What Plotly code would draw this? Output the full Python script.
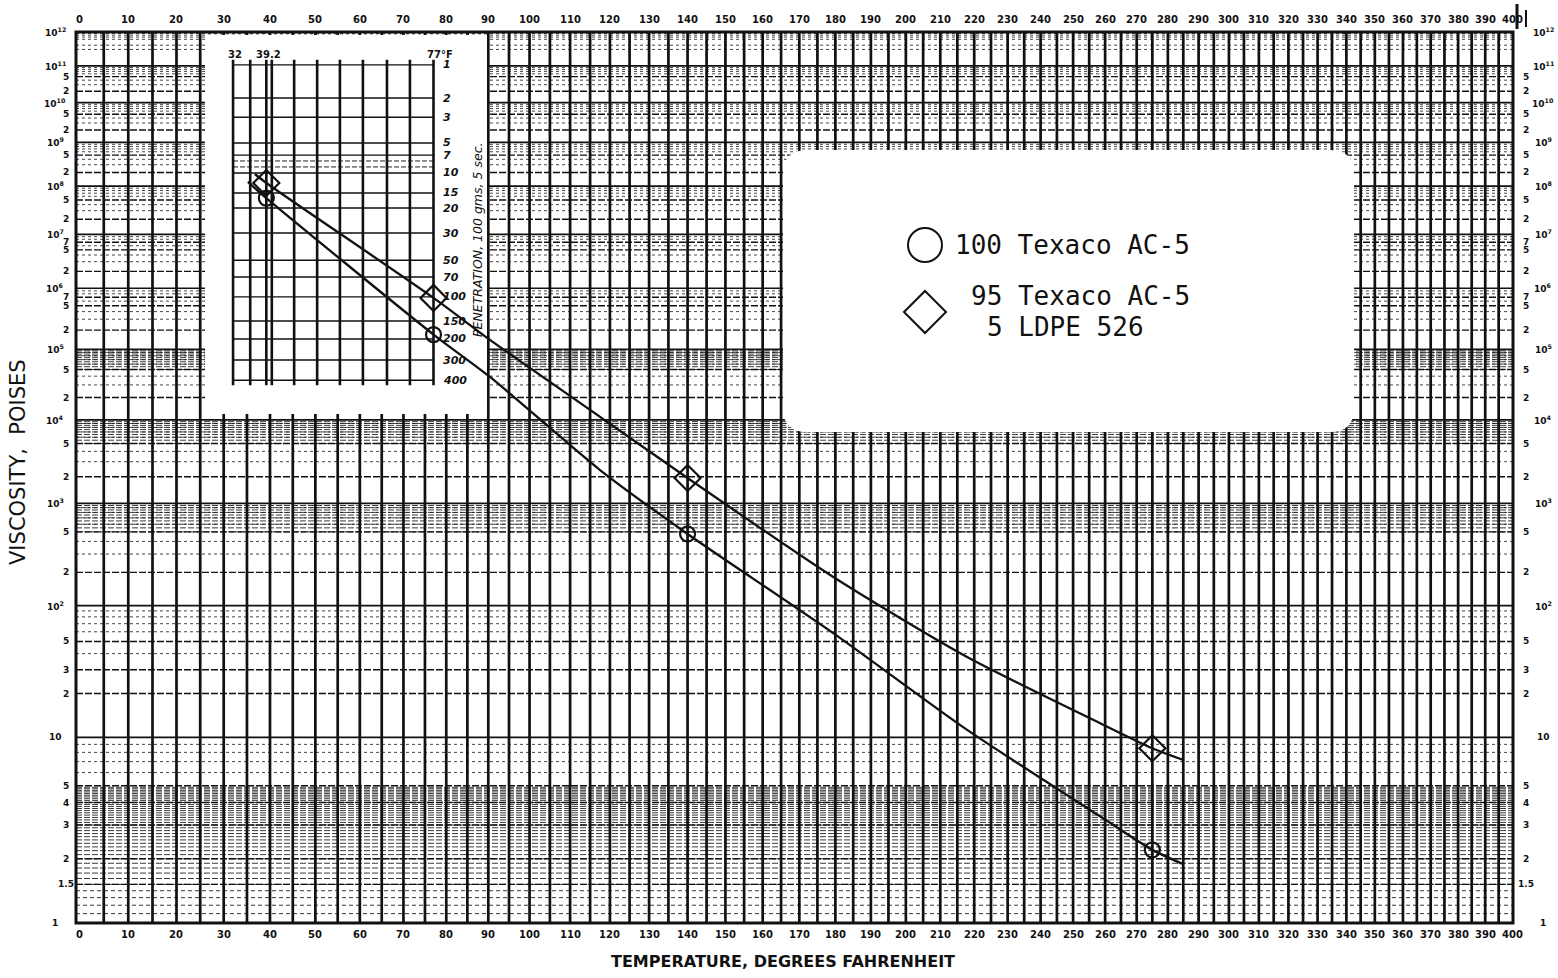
import numpy as np
import plotly.graph_objects as go

# ---------------- data ----------------
marker_temp_f = [39.2, 77, 140, 275]
ac5_visc = [5.5e7, 1.7e5, 476, 2.22]          # 100 Texaco AC-5  (poises)
ldpe_visc = [1.17e8, 6.8e5, 1930, 8.5]        # 95 Texaco AC-5 / 5 LDPE 526

ac5_curve_temp = [35.2, 39.2, 77, 90.4, 117.5, 140, 179.3, 217.9, 258.3, 275, 285.0]
ac5_curve_visc = [1.23e8, 5.5e7, 1.7e5, 3.9e4, 2390, 476, 58.7, 11.2, 3.36, 2.22, 1.88]
ldpe_curve_temp = [36.7, 39.2, 77, 90.4, 117.5, 140, 179.3, 217.9, 258.3, 275, 285.0]
ldpe_curve_visc = [1.85e8, 1.17e8, 6.8e5, 1.4e5, 1.1e4, 1930, 182, 37.6, 12.46, 8.5, 7.17]

temp_ticks = list(range(0, 401, 10))
visc_tick_vals = [1e12, 1e11, 5e10, 2e10, 1e10, 5e9, 2e9, 1e9, 5e8, 2e8, 1e8, 5e7, 2e7, 1e7,
                  7e6, 5e6, 2e6, 1e6, 7e5, 5e5, 2e5, 1e5, 5e4, 2e4, 1e4, 5e3, 2e3, 1e3,
                  5e2, 2e2, 1e2, 50, 30, 20, 10, 5, 4, 3, 2, 1.5, 1]
visc_tick_text = ["10<sup>12</sup>", "10<sup>11</sup>", "5", "2", "10<sup>10</sup>", "5", "2",
                  "10<sup>9</sup>", "5", "2", "10<sup>8</sup>", "5", "2", "10<sup>7</sup>",
                  "7", "5", "2", "10<sup>6</sup>", "7", "5", "2", "10<sup>5</sup>", "5", "2",
                  "10<sup>4</sup>", "5", "2", "10<sup>3</sup>", "5", "2", "10<sup>2</sup>",
                  "5", "3", "2", "10", "5", "4", "3", "2", "1.5", "1"]

# inset: penetration scale (100 g, 5 sec) and the equivalent viscosity on the main chart
pen_labels = [1, 2, 3, 5, 7, 10, 15, 20, 30, 50, 70, 100, 150, 200, 300, 400]
pen_equiv_visc = [1.07e11, 1.32e10, 4.2e9, 9.7e8, 5.0e8, 1.95e8, 7.1e7, 3.4e7, 1.06e7,
                  3.2e6, 1.58e6, 7.1e5, 2.8e5, 1.45e5, 6.9e4, 3.5e4]
pen_extra_visc = [3.66e8, 2.67e8]
inset_temp_lines = [32, 35.7, 39.2, 40.4, 45.3, 50.4, 55.5, 60.7, 66.2, 71.5, 77]
inset_temp_labels = ["32", "39.2", "77°F"]
inset_temp_label_vals = [32, 39.2, 77]


# ---------------- chart scales (ASTM: log Rankine  vs  log-log centipoise) -------------
def tx(t):
    return np.log10(np.asarray(t, dtype=float) + 459.67)


def ty(v):
    return np.log10(np.log10(np.asarray(v, dtype=float) * 100.0))


W, H = 1558, 978
ML, MR, MT, MB = 76, 45, 32, 55
PW, PH = W - ML - MR, H - MT - MB
XPD = 5270.5  # pixels per decade of Rankine
xr = [float(tx(0)) - 3 / XPD, float(tx(400)) + 1 / XPD]
yr = [float(ty(1)), float(ty(1e12))]


def px(x):
    return (x - ML) / PW


def py(y):
    return (H - MB - y) / PH


def dxp(x):  # page pixel -> x data coordinate (for decorations)
    return xr[0] + px(x) * (xr[1] - xr[0])


def dyp(y):
    return yr[0] + py(y) * (yr[1] - yr[0])


def segs(pairs):
    return " ".join(f"M{a:.6f},{b:.6f} L{c:.6f},{d:.6f}" for a, b, c, d in pairs)


shapes = []


def hlines(vals, width, dash="solid", color="#111", x0=None, x1=None):
    x0 = xr[0] if x0 is None else x0
    x1 = xr[1] if x1 is None else x1
    pairs = [(x0, float(ty(v)), x1, float(ty(v))) for v in vals]
    shapes.append(dict(type="path", path=segs(pairs), xref="x", yref="y", layer="below",
                       line=dict(color=color, width=width, dash=dash)))


def vlines(temps, width, y0v, y1v, color="#111", dash="solid"):
    pairs = [(float(tx(t)), float(ty(y0v)), float(tx(t)), float(ty(y1v))) for t in temps]
    shapes.append(dict(type="path", path=segs(pairs), xref="x", yref="y", layer="below",
                       line=dict(color=color, width=width, dash=dash)))


# --- main grid ---
labeled = set(visc_tick_vals)
minor = []
for n in range(0, 12):
    for k in [3, 4, 6, 7, 8, 9]:
        v = k * 10.0 ** n
        if v not in labeled and v < 1e12:
            minor.append(v)
hlines(minor, 0.9, dash="3px,3px", color="#333")
bands = list(np.arange(5e4, 1e5, 5e3)) + list(np.arange(5e3, 1e4, 5e2)) + \
    list(np.arange(5e2, 1e3, 50)) + list(np.arange(1.5, 5.0, 0.1))
hlines(bands, 0.9, dash="6px,2px", color="#222")
hlines(list(np.arange(1.1, 1.5, 0.1)), 0.9, dash="4px,3px", color="#222")
decades = [10.0 ** n for n in range(1, 12)]
hlines([v for v in visc_tick_vals if v not in decades and v not in (1, 1e12)], 1.4,
       dash="7px,2px", color="#111")
hlines(decades, 1.7, dash="solid", color="#111")
vlines(list(range(5, 400, 5)), 2.7, 1, 1e12)

# --- white paste-over areas (inset + legend), drawn in data space so they cover the grid ---
shapes.append(dict(type="rect", xref="x", yref="y", layer="below",
                   x0=dxp(205), x1=dxp(487), y0=dyp(414), y1=dyp(35),
                   fillcolor="white", line=dict(width=0)))
bx0, bx1, by0, by1 = dxp(783), dxp(1354), dyp(432), dyp(150)
rx = dxp(783 + 24) - bx0
ry = dyp(150) - dyp(150 + 24)
legend_path = (f"M{bx0 + rx},{by1} L{bx1 - rx},{by1} Q{bx1},{by1} {bx1},{by1 - ry} "
               f"L{bx1},{by0 + ry} Q{bx1},{by0} {bx1 - rx},{by0} L{bx0 + rx},{by0} "
               f"Q{bx0},{by0} {bx0},{by0 + ry} L{bx0},{by1 - ry} Q{bx0},{by1} {bx0 + rx},{by1} Z")
shapes.append(dict(type="path", path=legend_path, xref="x", yref="y", layer="below",
                   fillcolor="white", line=dict(width=0)))

# --- inset penetration chart ---
hlines(pen_equiv_visc, 1.4, color="#111", x0=float(tx(32)), x1=float(tx(77)))
hlines(pen_extra_visc, 1.0, dash="5px,2px", color="#222", x0=float(tx(32)), x1=float(tx(77)))
vlines(inset_temp_lines, 2.6, pen_equiv_visc[-1] * 0.85, pen_equiv_visc[0] * 1.4)

# --- frame ---
shapes.append(dict(type="rect", xref="paper", yref="paper", layer="above",
                   x0=0, x1=1, y0=0, y1=1, line=dict(color="#111", width=3)))
# scan marks top right
shapes.append(dict(type="line", xref="paper", yref="paper", x0=px(1517), x1=px(1517),
                   y0=py(29), y1=py(4), line=dict(color="#111", width=3)))
shapes.append(dict(type="line", xref="paper", yref="paper", x0=px(1526), x1=px(1526),
                   y0=py(27), y1=py(10), line=dict(color="#111", width=2)))

# --- legend symbols ---
cx, cy, cr = 925, 245, 17
shapes.append(dict(type="circle", xref="paper", yref="paper", layer="above",
                   x0=px(cx - cr), x1=px(cx + cr), y0=py(cy + cr), y1=py(cy - cr),
                   line=dict(color="#111", width=2)))
dx, dy, dr = 925, 312, 21
shapes.append(dict(type="path", xref="paper", yref="paper", layer="above",
                   path=f"M{px(dx - dr)},{py(dy)} L{px(dx)},{py(dy - dr)} L{px(dx + dr)},{py(dy)} "
                        f"L{px(dx)},{py(dy + dr)} Z",
                   line=dict(color="#111", width=2)))

fig = go.Figure()
fig.add_trace(go.Scatter(x=tx(ldpe_curve_temp), y=ty(ldpe_curve_visc), mode="lines",
                         line=dict(color="#111", width=2.3, shape="spline", smoothing=0.7),
                         showlegend=False, hoverinfo="skip"))
fig.add_trace(go.Scatter(x=tx(ac5_curve_temp), y=ty(ac5_curve_visc), mode="lines",
                         line=dict(color="#111", width=2.3, shape="spline", smoothing=0.7),
                         showlegend=False, hoverinfo="skip"))
fig.add_trace(go.Scatter(x=tx(marker_temp_f), y=ty(ldpe_visc), mode="markers",
                         name="95 Texaco AC-5 / 5 LDPE 526",
                         marker=dict(symbol="diamond-open", size=20, color="#111",
                                     line=dict(width=2.2, color="#111")), showlegend=False))
fig.add_trace(go.Scatter(x=tx(marker_temp_f), y=ty(ac5_visc), mode="markers",
                         name="100 Texaco AC-5",
                         marker=dict(symbol="circle-open", size=15, color="#111",
                                     line=dict(width=2.2, color="#111")), showlegend=False))

ann = []
tick_font = dict(family="DejaVu Sans", size=10, color="#111", weight="bold")
for t in temp_ticks:
    ann.append(dict(x=float(tx(t)), y=0, xref="x", yref="paper", text=str(t), showarrow=False,
                    xanchor="center", yanchor="top", yshift=-4, font=tick_font))
    ann.append(dict(x=float(tx(t)), y=1, xref="x", yref="paper", text=str(t), showarrow=False,
                    xanchor="center", yanchor="bottom", yshift=5, font=tick_font))
vfont = dict(family="DejaVu Sans", size=9, color="#111", weight="bold")
for v, txt in zip(visc_tick_vals, visc_tick_text):
    is_dec = txt.startswith("10") or txt == "1"
    ann.append(dict(x=0, y=float(ty(v)), xref="paper", yref="y", text=txt, showarrow=False,
                    xanchor="center", yanchor="middle", xshift=-21 if is_dec else -10,
                    font=vfont))
    ann.append(dict(x=1, y=float(ty(v)), xref="paper", yref="y", text=txt, showarrow=False,
                    xanchor="center", yanchor="middle", xshift=30 if is_dec else 13,
                    font=vfont))

# inset labels
ifont = dict(family="DejaVu Sans", size=11, color="#111", style="italic", weight="bold")
for p, v in zip(pen_labels, pen_equiv_visc):
    ann.append(dict(x=float(tx(77)), y=float(ty(v)), xref="x", yref="y", text=str(p),
                    showarrow=False, xanchor="left", yanchor="middle", xshift=7, font=ifont))
for lab, t in zip(inset_temp_labels, inset_temp_label_vals):
    ann.append(dict(x=float(tx(t)), y=py(55), xref="x", yref="paper", text=lab,
                    showarrow=False, xanchor="center", yanchor="middle",
                    xshift=6 if t == 77 else 2,
                    font=dict(family="DejaVu Sans", size=10, color="#111", weight="bold")))
ann.append(dict(x=px(477), y=py(240), xref="paper", yref="paper",
                text="PENETRATION, 100 gms, 5 sec.", textangle=-90, showarrow=False,
                xanchor="center", yanchor="middle",
                font=dict(family="DejaVu Sans", size=12.5, color="#111", style="italic")))

# titles
ann.append(dict(x=px(783), y=py(962), xref="paper", yref="paper",
                text="TEMPERATURE, DEGREES FAHRENHEIT", showarrow=False,
                xanchor="center", yanchor="middle",
                font=dict(family="DejaVu Sans", size=16, color="#111", weight="bold")))
ann.append(dict(x=px(18), y=py(462), xref="paper", yref="paper",
                text="VISCOSITY,  POISES", textangle=-90, showarrow=False,
                xanchor="center", yanchor="middle",
                font=dict(family="DejaVu Sans", size=21, color="#111")))

# legend texts
lfont = dict(family="DejaVu Sans Mono", size=26, color="#111")
ann.append(dict(x=px(953), y=py(245), xref="paper", yref="paper", text="100 Texaco AC-5",
                showarrow=False, xanchor="left", yanchor="middle", font=lfont))
ann.append(dict(x=px(969), y=py(296), xref="paper", yref="paper", text="95 Texaco AC-5",
                showarrow=False, xanchor="left", yanchor="middle", font=lfont))
ann.append(dict(x=px(985), y=py(327), xref="paper", yref="paper", text="5 LDPE 526",
                showarrow=False, xanchor="left", yanchor="middle", font=lfont))

fig.update_layout(
    width=W, height=H, margin=dict(l=ML, r=MR, t=MT, b=MB),
    paper_bgcolor="white", plot_bgcolor="white",
    xaxis=dict(range=xr, showgrid=False, zeroline=False, showticklabels=False, ticks="",
               showline=False, fixedrange=True),
    yaxis=dict(range=yr, showgrid=False, zeroline=False, showticklabels=False, ticks="",
               showline=False, fixedrange=True),
    shapes=shapes, annotations=ann, showlegend=False,
)
fig.write_html("out.html")
